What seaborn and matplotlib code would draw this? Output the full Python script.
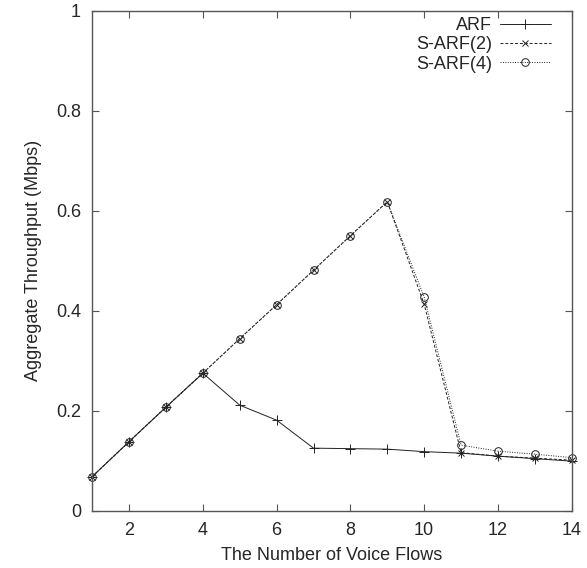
import pandas as pd
import matplotlib
matplotlib.use("Agg")
import matplotlib.pyplot as plt
import seaborn as sns

# ==========================================
# DATOS
# ==========================================

flujos = [1, 2, 3, 4, 5, 6, 7, 8, 9, 10, 11, 12, 13, 14]

arf = [0.068, 0.138, 0.207, 0.275, 0.211, 0.181, 0.125,
       0.124, 0.123, 0.118, 0.115, 0.109, 0.104, 0.099]

sarf2 = [0.068, 0.138, 0.207, 0.275, 0.344, 0.412, 0.481,
         0.550, 0.618, 0.413, 0.116, 0.109, 0.105, 0.101]

sarf4 = [0.068, 0.138, 0.207, 0.275, 0.344, 0.412, 0.481,
         0.550, 0.618, 0.427, 0.131, 0.119, 0.113, 0.106]

series = ["ARF", "S-ARF(2)", "S-ARF(4)"]

# ==========================================
# ESTILO
# ==========================================

sns.set_style("ticks")
plt.rcParams["font.family"] = ["Liberation Sans", "DejaVu Sans"]
plt.rcParams["font.size"] = 13

fig = plt.figure(figsize=(5.87, 5.68), dpi=100)
ax = fig.add_axes([0.157, 0.101, 0.817, 0.880])

estilos = {
    "ARF": dict(linestyle="-", marker="+", markersize=7,
                markerfacecolor="black"),
    "S-ARF(2)": dict(linestyle=(0, (3, 2)), marker="x", markersize=5,
                     markerfacecolor="black"),
    "S-ARF(4)": dict(linestyle=(0, (1, 1.5)), marker="o", markersize=5.5,
                     markerfacecolor="none"),
}

for nombre, valores in zip(series, [arf, sarf2, sarf4]):
    datos = pd.DataFrame({"x": flujos, "y": valores})
    sns.lineplot(
        data=datos,
        x="x",
        y="y",
        ax=ax,
        color="#222222",
        linewidth=0.7,
        label=nombre,
    )
    linea = ax.lines[-1]
    linea.set(markeredgecolor="#222222", markeredgewidth=0.7,
              clip_on=False, **estilos[nombre])

ax.set_xlim(1, 14)
ax.set_ylim(0, 1)
ax.set_xticks([2, 4, 6, 8, 10, 12, 14])
ax.set_yticks([0, 0.2, 0.4, 0.6, 0.8, 1])
ax.set_yticklabels(["0", "0.2", "0.4", "0.6", "0.8", "1"])

ax.tick_params(direction="in", top=True, right=True, length=5,
               width=0.8, color="#555555", labelsize=13, pad=8)
for lado in ax.spines.values():
    lado.set_color("#555555")
    lado.set_linewidth(1.0)

ax.set_xlabel("The Number of Voice Flows", fontsize=13, labelpad=6)
ax.set_ylabel("Aggregate Throughput (Mbps)", fontsize=13, labelpad=10)

ax.legend(
    loc="upper right",
    bbox_to_anchor=(0.956, 0.987),
    frameon=False,
    markerfirst=False,
    handlelength=2.8,
    handletextpad=0.45,
    fontsize=13,
    labelspacing=0.12,
    borderaxespad=0,
    borderpad=0,
)

plt.savefig("out.png", dpi=100)
plt.close()
